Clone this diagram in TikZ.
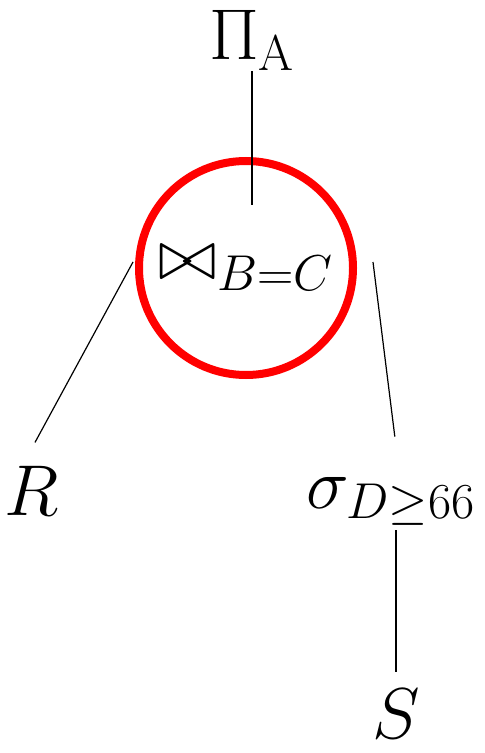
\RequirePackage{fix-cm}
\documentclass[tikz,border=0pt]{standalone}
\usepackage{amsmath}
\usepackage{amssymb}
\usetikzlibrary{calc}

\tikzset{
  relname/.style={inner sep=0pt, font=\fontsize{36}{42}\selectfont},
  joincircle/.style={circle, draw=red, line width=4pt, minimum size=107pt,
                     inner sep=0pt, font=\fontsize{36}{42}\selectfont},
  edge/.style={line width=0.6pt, black}
}

\begin{document}
\begin{tikzpicture}[x=0.5pt,y=-0.5pt]
  \useasboundingbox (0,0) rectangle (485,753);
  % operators
  \node[relname, anchor=base] (proj) at (252,60) {$\Pi_{\mathrm{A}}$};
  \node[joincircle] (join) at (246,268) {$\mathop{\bowtie}\nolimits_{B=C}$};
  \node[relname, anchor=base west] (sel) at (306,508) {$\sigma_{D\geq 66}$};
  % relations
  \node[relname, anchor=base] (rel) at (32,515) {$R$};
  \node[relname, anchor=base] (s) at (396,738) {$S$};
  % edges
  \draw[edge] (proj.south) -- ($(join.north)+(6,48)$);
  \draw[edge] ($(join.west)+(-2,-6)$) -- ($(rel.north)+(3,-23)$);
  \draw[edge] ($(join.east)+(16,-6)$) -- ($(sel.north)+(4,-40)$);
  \draw[edge, shorten <=2pt, shorten >=8pt] (sel.south -| s.north) -- (s.north);
\end{tikzpicture}
\end{document}
